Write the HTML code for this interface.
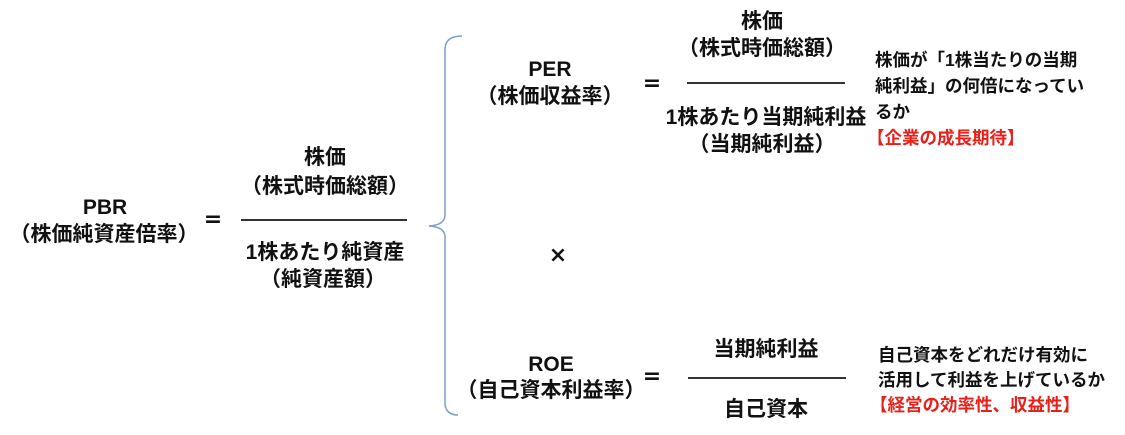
<!DOCTYPE html>
<html><head><meta charset="utf-8"><style>
body{margin:0;width:1125px;height:435px;background:#fff;position:relative;overflow:hidden;font-family:"Liberation Sans","Noto Sans CJK JP",sans-serif;font-weight:bold;color:#111}
.t{position:absolute;white-space:nowrap;line-height:26px;font-size:21px;transform:translate(-50%,-50%)}
.e{font-size:22px;font-family:"DejaVu Sans",sans-serif}
.l{position:absolute;white-space:nowrap;font-size:17.5px;line-height:26px}
.r{color:#e8201a}
.h{position:absolute;height:1.5px;background:#333}
</style></head><body>
<div class="t" style="left:105px;top:208px">PBR</div>
<div class="t" style="left:104px;top:235px">（株価純資産倍率）</div>
<div class="t e" style="left:213px;top:220px">=</div>
<div class="t" style="left:325px;top:158px">株価</div>
<div class="t" style="left:325px;top:187px">（株式時価総額）</div>
<div class="h" style="left:241px;top:219px;width:166px"></div>
<div class="t" style="left:325px;top:253px">1株あたり純資産</div>
<div class="t" style="left:323px;top:280px">（純資産額）</div>

<svg style="position:absolute;left:0;top:0" width="1125" height="435">
<path d="M462 36 Q446 36 445 48 L445 215 Q445 225 429 226 Q445 227 445 237 L445 404 Q446 415 458 415" fill="none" stroke="#7f9fc4" stroke-width="1.5"/>
</svg>

<div class="t" style="left:550px;top:70px">PER</div>
<div class="t" style="left:550px;top:97px">（株価収益率）</div>
<div class="t e" style="left:652px;top:84px">=</div>
<div class="t" style="left:762px;top:22px">株価</div>
<div class="t" style="left:762px;top:49px">（株式時価総額）</div>
<div class="h" style="left:687px;top:82px;width:158px"></div>
<div class="t" style="left:766px;top:118px">1株あたり当期純利益</div>
<div class="t" style="left:762px;top:145px">（当期純利益）</div>
<div class="l" style="left:875px;top:47px">株価が「1株当たりの当期<br>純利益」の何倍になってい<br>るか<br><span class="r" style="margin-left:-8px">【企業の成長期待】</span></div>

<div class="t e" style="left:558px;top:256px;font-size:22px">×</div>

<div class="t" style="left:551px;top:365px">ROE</div>
<div class="t" style="left:551px;top:391px">（自己資本利益率）</div>
<div class="t e" style="left:652px;top:377px">=</div>
<div class="t" style="left:766px;top:350px">当期純利益</div>
<div class="h" style="left:688px;top:377px;width:158px"></div>
<div class="t" style="left:766px;top:410px">自己資本</div>
<div class="l" style="left:878px;top:343px;line-height:25px">自己資本をどれだけ有効に<br>活用して利益を上げているか<br><span class="r" style="margin-left:-8px">【経営の効率性、収益性】</span></div>
</body></html>
